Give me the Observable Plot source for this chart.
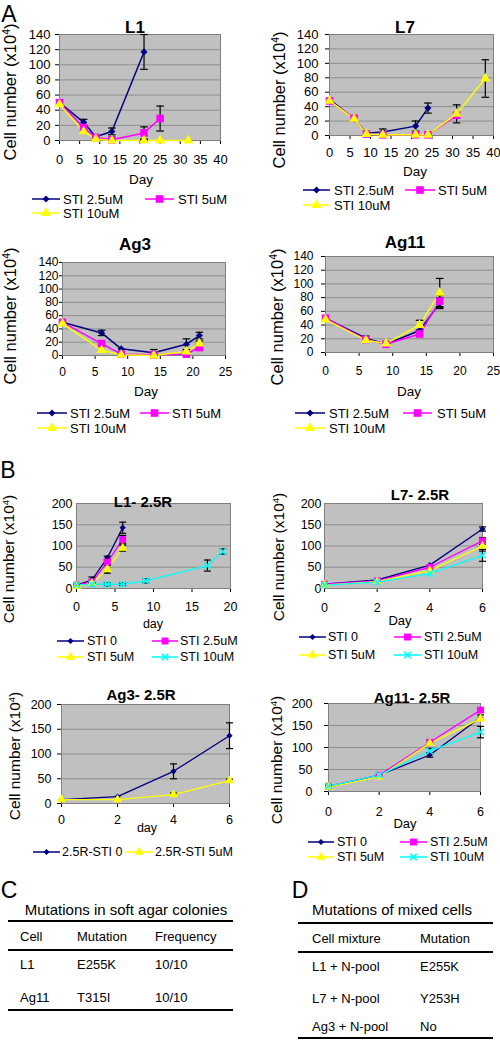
<!DOCTYPE html>
<html><head><meta charset="utf-8">
<script src="https://cdn.jsdelivr.net/npm/d3@7"></script>
<script src="https://cdn.jsdelivr.net/npm/@observablehq/plot@0.6"></script>
<style>
body{margin:0;background:#fff;}
#root{position:relative;width:500px;height:1040px;overflow:hidden;font-family:"Liberation Sans",Arial,sans-serif;color:#000;background:#fff;}
.t{position:absolute;white-space:nowrap;line-height:1;}
.hl{position:absolute;background:#000;}
sup{font-size:0.62em;vertical-align:0.55em;line-height:0;}
</style></head><body><div id="root"></div>
<script>
// ---------------- DATA ----------------
const seriesA = ["STI 2.5uM", "STI 5uM", "STI 10uM"];
const seriesB = ["STI 0", "STI 2.5uM", "STI 5uM", "STI 10uM"];
const seriesBAg3 = ["2.5R-STI 0", "2.5R-STI 5uM"];

const ticksA40 = [0, 5, 10, 15, 20, 25, 30, 35, 40];
const ticksA25 = [0, 5, 10, 15, 20, 25];
const ticksAy = [0, 20, 40, 60, 80, 100, 120, 140];
const ticksB20 = [0, 5, 10, 15, 20];
const ticksB6 = [0, 2, 4, 6];
const ticksBy = [0, 50, 100, 150, 200];

// A - L1
const aL1Days = [[0, 6, 9, 13, 21], [0, 6, 9, 13, 21, 25], [0, 6, 9, 13, 21, 25, 32]];
const aL1Vals = [[50, 24, 5, 12, 117], [50, 17, 4, 1, 10, 29], [48, 12, 2, 0, 0, 0, 0]];
const aL1Err  = [[0, 4, 0, 4.5, 23], [0, 0, 0, 0, 8, 16.5], [0, 0, 0, 0, 1.5, 0, 0]];
// A - L7
const aL7Days = [[0, 6, 9, 13, 21, 24], [0, 6, 9, 13, 21, 24, 31], [0, 6, 9, 13, 21, 24, 31, 38]];
const aL7Vals = [[50, 23, 3, 5, 13, 38], [48, 24, 2, 1, 1, 1, 28], [48, 23, 2, 1, 1, 1, 30, 79]];
const aL7Err  = [[0, 0, 0, 4, 7, 7], [0, 0, 0, 0, 0, 0, 0], [0, 0, 0, 0, 0, 0, 12.5, 26]];
// A - Ag3
const aAg3Days = [[0, 6, 9, 14, 19, 21], [0, 6, 9, 14, 19, 21], [0, 6, 9, 14, 19, 21]];
const aAg3Vals = [[50, 34, 10, 4, 17, 30], [50, 18, 2, 1, 2, 12], [48, 8, 1, 0, 6, 18]];
const aAg3Err  = [[0, 4, 0, 5, 8, 5], [0, 0, 0, 0, 0, 4], [0, 0, 0, 0, 0, 4]];
// A - Ag11
const aAg11Days = [[0, 6, 9, 14, 17], [0, 6, 9, 14, 17], [0, 6, 9, 14, 17]];
const aAg11Vals = [[50, 21, 12, 32, 72], [50, 19, 12, 27, 75], [48, 18, 13, 40, 87]];
const aAg11Err  = [[0, 3, 0, 0, 8], [0, 0, 0, 0, 8], [0, 0, 0, 7, 21]];
// B - L1-2.5R
const bL1Days = [[0, 2, 4, 6], [0, 2, 4, 6], [0, 2, 4, 6], [0, 2, 4, 6, 9, 17, 19]];
const bL1Vals = [[8, 20, 72, 143], [8, 15, 62, 115], [5, 12, 45, 95], [8, 10, 10, 10, 18, 54, 87]];
const bL1Err  = [[0, 7, 4, 13], [0, 0, 5, 10], [0, 0, 9, 7], [0, 3, 4, 3, 5, 13, 6]];
// B - L7-2.5R
const bL7Days = [[0, 2, 4, 6], [0, 2, 4, 6], [0, 2, 4, 6], [0, 2, 4, 6]];
const bL7Vals = [[10, 20, 55, 140], [10, 18, 50, 112], [8, 16, 42, 100], [8, 15, 35, 78]];
const bL7Err  = [[0, 0, 0, 5], [0, 0, 0, 8], [0, 0, 0, 12], [0, 0, 0, 14]];
// B - Ag3-2.5R
const bAg3Days = [[0, 2, 4, 6], [0, 2, 4, 6]];
const bAg3Vals = [[8, 14, 65, 137], [8, 8, 18, 46]];
const bAg3Err  = [[0, 0, 15, 26], [0, 0, 3, 3]];
// B - Ag11-2.5R
const bAg11Days = [[0, 2, 4, 6], [0, 2, 4, 6], [0, 2, 4, 6], [0, 2, 4, 6]];
const bAg11Vals = [[10, 37, 83, 168], [12, 37, 112, 185], [10, 33, 110, 165], [12, 37, 92, 135]];
const bAg11Err  = [[0, 0, 5, 6], [0, 0, 5, 0], [0, 0, 0, 0], [0, 0, 6, 13]];

// Tables
const tableCTitle = "Mutations in soft agar colonies";
const tableCHead = ["Cell", "Mutation", "Frequency"];
const tableCRows = [["L1", "E255K", "10/10"], ["Ag11", "T315I", "10/10"]];
const tableDTitle = "Mutations of mixed cells";
const tableDHead = ["Cell mixture", "Mutation"];
const tableDRows = [["L1 + N-pool", "E255K"], ["L7 + N-pool", "Y253H"], ["Ag3 + N-pool", "No"]];

// ---------------- DRAWING ----------------
const FONT = '"Liberation Sans", Arial, sans-serif';
const root = document.getElementById("root");
const STY = [
  {color: "#000080", symbol: "diamond2", d3s: d3.symbolDiamond2, filled: true},
  {color: "#FF00FF", symbol: "square", d3s: d3.symbolSquare, filled: true},
  {color: "#FFFF00", symbol: "triangle", d3s: d3.symbolTriangle, filled: true},
  {color: "#00FFFF", symbol: "times", d3s: d3.symbolTimes, filled: false}
];
const RA = [3.2, 4.3, 3.7, 3.4];
const RB = [2.8, 3.9, 3.4, 3.0];
const CAP = {draw(ctx, size) { const w = Math.sqrt(size / Math.PI); ctx.moveTo(-w, 0); ctx.lineTo(w, 0); }};
const fmt = d => String(d);

function chart(c) {
  const mL = 50, mR = 20, mT = 10, mB = 40;
  const [x0, y0, x1, y1] = c.frame;
  const rows = [];
  c.days.forEach((ds, k) => ds.forEach((d, i) => {
    const v = c.vals[k][i], e = c.err[k][i];
    rows.push({k, day: d, v, e, lo: Math.max(0, v - e), hi: v + e});
  }));
  const errs = rows.filter(r => r.e > 0);
  const marks = [
    Plot.frame({fill: "#c0c0c0", stroke: null}),
    Plot.ruleY(c.yTicks, {stroke: "#8e8e8e", strokeWidth: 1}),
    Plot.frame({stroke: "#808080", strokeWidth: 1})
  ];
  c.sty.forEach((s, k) => marks.push(Plot.line(rows.filter(r => r.k === k), {x: "day", y: "v", stroke: STY[s].color, strokeWidth: c.lw})));
  marks.push(Plot.ruleX(errs, {x: "day", y1: "lo", y2: "hi", stroke: "#000", strokeWidth: 1.2}));
  marks.push(Plot.dot(errs, {x: "day", y: "lo", symbol: CAP, r: c.cap, stroke: "#000", fill: "none", strokeWidth: 1.2}));
  marks.push(Plot.dot(errs, {x: "day", y: "hi", symbol: CAP, r: c.cap, stroke: "#000", fill: "none", strokeWidth: 1.2}));
  c.sty.forEach((s, k) => {
    const st = STY[s];
    marks.push(Plot.dot(rows.filter(r => r.k === k), {
      x: "day", y: "v", symbol: st.symbol, r: c.r[s],
      fill: st.filled ? st.color : "none", stroke: st.filled ? "none" : st.color, strokeWidth: 1.6
    }));
  });
  const svg = Plot.plot({
    width: x1 - x0 + mL + mR, height: y1 - y0 + mT + mB,
    marginLeft: mL, marginRight: mR, marginTop: mT, marginBottom: mB,
    style: {fontFamily: FONT, fontSize: c.fs + "px", background: "transparent", overflow: "visible", color: "#000",
            position: "absolute", left: (x0 - mL) + "px", top: (y0 - mT) + "px", maxWidth: "none"},
    x: {domain: c.xDom, ticks: c.xTicks, tickFormat: fmt, tickSize: 4, tickPadding: c.xPad, label: null},
    y: {domain: c.yDom, ticks: c.yTicks, tickFormat: fmt, tickSize: c.yTS, tickPadding: c.yPad, label: null},
    marks
  });
  root.appendChild(svg);
}

function T(html, x, y, o = {}) {
  const d = document.createElement("div");
  d.className = "t";
  d.innerHTML = html;
  d.style.left = x + "px";
  d.style.top = y + "px";
  d.style.fontSize = (o.size || 13) + "px";
  if (o.bold) d.style.fontWeight = "bold";
  d.style.transform = o.rot ? "translate(-50%,-50%) rotate(-90deg)" : (o.start ? "translate(0,-50%)" : "translate(-50%,-50%)");
  root.appendChild(d);
}

function legend(items, r, size) {
  items.forEach(([s, lx1, lx2, tx, y, label]) => {
    const st = STY[s];
    const w = lx2 - lx1;
    const svg = d3.create("svg").attr("width", w).attr("height", 14)
      .style("position", "absolute").style("left", lx1 + "px").style("top", (y - 7) + "px").style("overflow", "visible");
    svg.append("line").attr("x1", 0).attr("x2", w).attr("y1", 7).attr("y2", 7).attr("stroke", st.color).attr("stroke-width", 1.5);
    svg.append("path").attr("transform", `translate(${w / 2},7)`)
      .attr("d", d3.symbol().type(st.d3s).size(Math.PI * r[s] * r[s])())
      .attr("fill", st.filled ? st.color : "none").attr("stroke", st.filled ? "none" : st.color).attr("stroke-width", 1.6);
    root.appendChild(svg.node());
    T(label, tx, y, {start: true, size});
  });
}

function hline(x1, x2, y, w) {
  const d = document.createElement("div");
  d.className = "hl";
  d.style.left = x1 + "px"; d.style.width = (x2 - x1) + "px";
  d.style.top = (y - w / 2) + "px"; d.style.height = w + "px";
  root.appendChild(d);
}

const YLAB = "Cell number (x10<sup>4</sup>)";

// ---- Panel A ----
const baseA = {xPad: 10, yTS: 4, yPad: 5, yDom: [0, 140], yTicks: ticksAy, fs: 13, lw: 1.5, r: RA, cap: 3.8, sty: [0, 1, 2]};
chart({...baseA, frame: [59, 34, 220, 140], xDom: [0, 40], xTicks: ticksA40, days: aL1Days, vals: aL1Vals, err: aL1Err});
chart({...baseA, frame: [329, 34, 493, 135], xDom: [0, 40], xTicks: ticksA40, xPad: 8, yPad: 7, days: aL7Days, vals: aL7Vals, err: aL7Err});
chart({...baseA, frame: [62, 262, 225, 355], fs: 12, xDom: [0, 25], xTicks: ticksA25, xPad: 8, yTS: 3, yPad: 1, days: aAg3Days, vals: aAg3Vals, err: aAg3Err});
chart({...baseA, frame: [325, 256, 493, 352], fs: 12, xDom: [0, 25], xTicks: ticksA25, xPad: 10, yPad: 8, days: aAg11Days, vals: aAg11Vals, err: aAg11Err});

T("A", 9, 14, {size: 23});
T("L1", 135, 27, {size: 17, bold: true});
T("L7", 405, 27, {size: 17, bold: true});
T("Ag3", 135, 244, {size: 17, bold: true});
T("Ag11", 405, 242, {size: 17, bold: true});
T("Day", 141, 180, {size: 13.5});
T("Day", 415, 172, {size: 13.5});
T("Day", 146, 392, {size: 13.5});
T("Day", 409, 392, {size: 13.5});
T(YLAB, 10, 92, {size: 16.5, rot: true});
T(YLAB, 279, 100, {size: 16.5, rot: true});
T(YLAB, 10, 316, {size: 16.5, rot: true});
T(YLAB, 277, 317, {size: 16.5, rot: true});

legend([[0, 32, 60, 63, 199, seriesA[0]], [1, 145, 174, 178, 199, seriesA[1]], [2, 32, 60, 63, 213, seriesA[2]]], RA, 13);
legend([[0, 303, 330, 334, 190, seriesA[0]], [1, 405, 435, 438, 190, seriesA[1]], [2, 303, 330, 334, 205, seriesA[2]]], RA, 13);
legend([[0, 37, 67, 70, 413, seriesA[0]], [1, 140, 169, 172, 413, seriesA[1]], [2, 37, 67, 70, 428, seriesA[2]]], RA, 13);
legend([[0, 295, 325, 329, 413, seriesA[0]], [1, 403, 432, 437, 413, seriesA[1]], [2, 295, 325, 329, 428, seriesA[2]]], RA, 13);

// ---- Panel B ----
const baseB = {yDom: [0, 200], yTicks: ticksBy, fs: 12.5, lw: 1.3, r: RB, cap: 3.5};
chart({...baseB, frame: [76, 503, 230, 588], xDom: [0, 20], xTicks: ticksB20, xPad: 10, yTS: 0, yPad: 4, sty: [0, 1, 2, 3], days: bL1Days, vals: bL1Vals, err: bL1Err});
chart({...baseB, frame: [324, 503, 482, 588], xDom: [0, 6], xTicks: ticksB6, xPad: 11, yTS: 0, yPad: 3, sty: [0, 1, 2, 3], days: bL7Days, vals: bL7Vals, err: bL7Err});
chart({...baseB, frame: [61, 704, 229, 803], xDom: [0, 6], xTicks: ticksB6, xPad: 8, yTS: 4, yPad: 6, sty: [0, 2], days: bAg3Days, vals: bAg3Vals, err: bAg3Err});
chart({...baseB, frame: [328, 703, 480, 791], xDom: [0, 6], xTicks: ticksB6, xPad: 12, yTS: 4, yPad: 12, sty: [0, 1, 2, 3], days: bAg11Days, vals: bAg11Vals, err: bAg11Err});

T("B", 8, 470, {size: 23});
T("L1- 2.5R", 143, 501, {size: 15, bold: true});
T("L7- 2.5R", 420, 494, {size: 15, bold: true});
T("Ag3- 2.5R", 141, 694, {size: 15, bold: true});
T("Ag11- 2.5R", 412, 697, {size: 15, bold: true});
T("day", 153, 624, {size: 12.5});
T("Day", 400, 620, {size: 13});
T("day", 147, 828, {size: 12.5});
T("Day", 405, 823, {size: 13});
T(YLAB, 9, 559, {size: 15.5, rot: true});
T(YLAB, 279, 557, {size: 15.5, rot: true});
T(YLAB, 15, 756, {size: 15.5, rot: true});
T(YLAB, 277, 760, {size: 15.5, rot: true});

legend([[0, 57, 84, 87, 641, seriesB[0]], [1, 152, 178, 180, 641, seriesB[1]], [2, 57, 84, 87, 657, seriesB[2]], [3, 152, 178, 180, 657, seriesB[3]]], RB, 12.5);
legend([[0, 299, 326, 328, 637, seriesB[0]], [1, 394, 421, 424, 637, seriesB[1]], [2, 299, 326, 328, 655, seriesB[2]], [3, 394, 421, 424, 655, seriesB[3]]], RB, 12.5);
legend([[0, 33, 60, 62, 852, seriesBAg3[0]], [2, 125, 153, 155, 852, seriesBAg3[1]]], RB, 12.5);
legend([[0, 308, 334, 337, 842, seriesB[0]], [1, 400, 427, 430, 842, seriesB[1]], [2, 308, 334, 337, 857, seriesB[2]], [3, 400, 427, 430, 857, seriesB[3]]], RB, 12.5);

// ---- Panel C ----
T("C", 9, 890, {size: 23});
T(tableCTitle, 126, 909, {size: 15});
hline(8, 233, 921, 1.3);
const cCols = [20, 77, 155];
tableCHead.forEach((h, i) => T(h, cCols[i], 936, {start: true, size: 13}));
hline(8, 233, 950, 2);
const cRowY = [964, 997];
tableCRows.forEach((r, j) => r.forEach((v, i) => T(v, cCols[i], cRowY[j], {start: true, size: 13})));
hline(8, 233, 1010, 2);

// ---- Panel D ----
T("D", 300, 890, {size: 23});
T(tableDTitle, 392, 909, {size: 15});
hline(298, 493, 923, 1.3);
const dCols = [312, 420];
tableDHead.forEach((h, i) => T(h, dCols[i], 938, {start: true, size: 13}));
hline(298, 493, 952, 2);
const dRowY = [966, 998, 1026];
tableDRows.forEach((r, j) => r.forEach((v, i) => T(v, dCols[i], dRowY[j], {start: true, size: 13})));
hline(298, 493, 1038, 2);
</script></body></html>
